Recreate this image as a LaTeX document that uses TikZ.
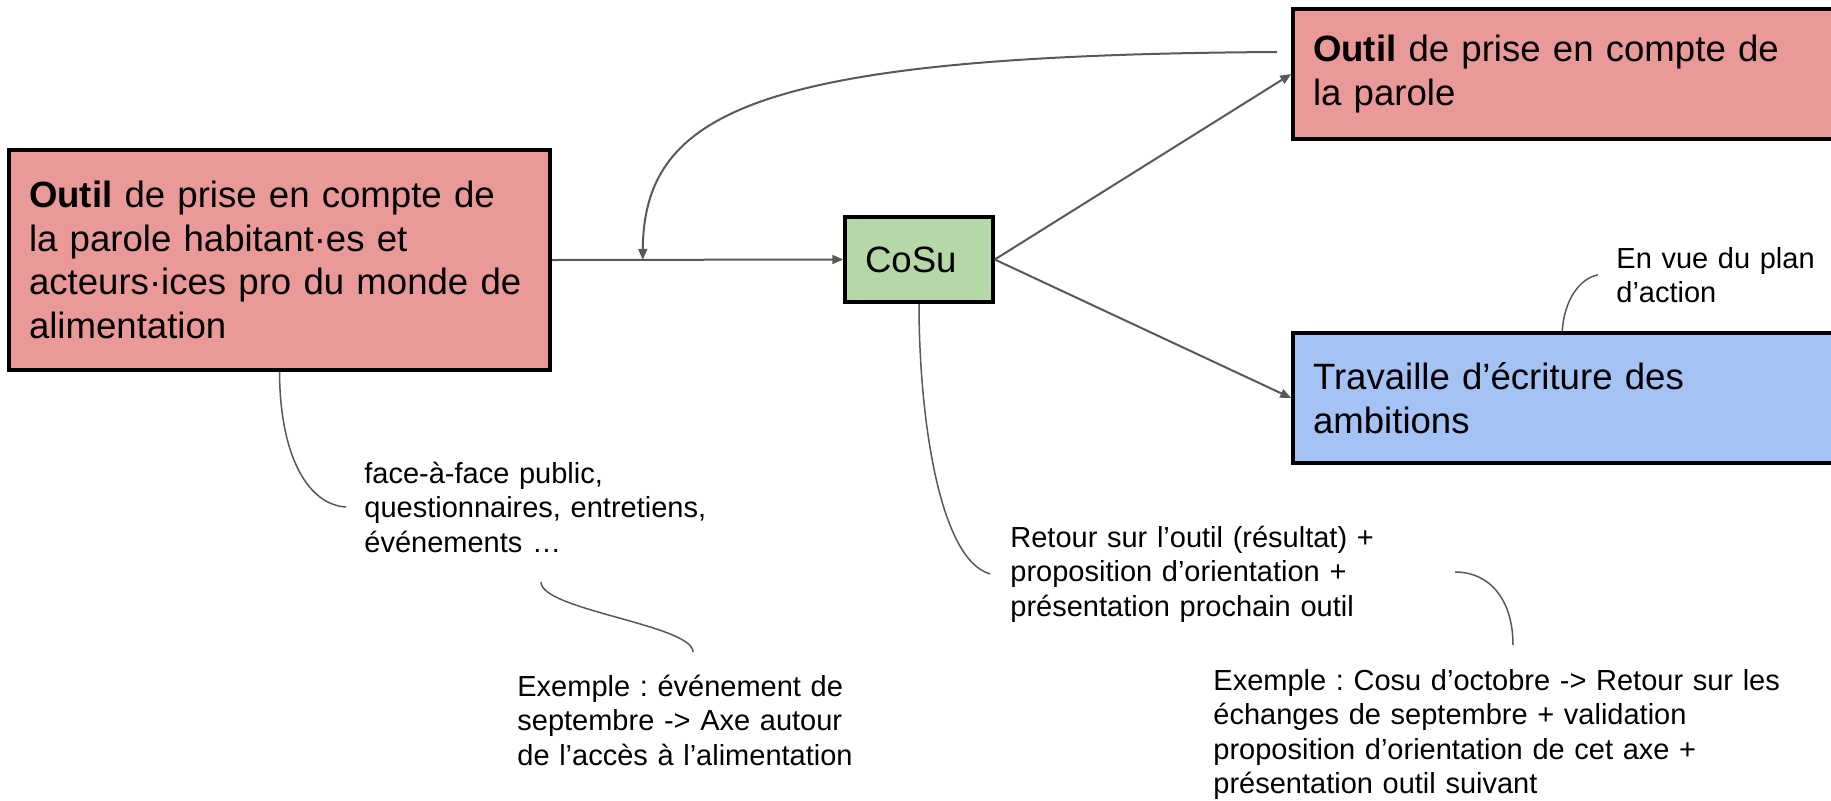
\documentclass[tikz,border=0pt]{standalone}
\usepackage{fontspec}
\setmainfont{Liberation Sans}
\usetikzlibrary{arrows.meta,calc}
\definecolor{boxred}{HTML}{EA9999}
\definecolor{boxgreen}{HTML}{B6D7A8}
\definecolor{boxblue}{HTML}{A4C2F4}
\definecolor{linegrey}{HTML}{595959}
\frenchspacing
\newcommand{\myBigFont}{\fontsize{18.3pt}{21.75pt}\selectfont}
\newcommand{\mySmallFont}{\fontsize{14.5pt}{17.25pt}\selectfont}
\begin{document}
\begin{tikzpicture}[x=0.5pt,y=-0.5pt,
  box/.style={draw=black, line width=1.75pt, rectangle, inner xsep=10pt, inner ysep=0pt, align=left, font=\myBigFont},
  conn/.style={draw=linegrey, line width=1pt, -{Triangle[length=5.5pt,width=4.5pt]}},
  callout/.style={draw=linegrey, line width=0.75pt},
  note/.style={inner sep=0pt, anchor=base west, align=left, font=\mySmallFont, text width=320pt}]
\useasboundingbox (0,0) rectangle (1831,800);
\fill[white] (0,0) rectangle (1831,800);
\clip (0,0) rectangle (1831,800);

% boxes
\node[box, fill=boxred, minimum width=270.5pt, minimum height=110pt, text width=250.5pt] (L1) at (279.5,260)
  {\textbf{Outil} de prise en compte de\\la parole habitant·es et\\acteurs·ices pro du monde de\\alimentation};
\node[box, fill=boxred, minimum height=65pt, text width=263.5pt] (R1) at (1576.5,74)
  {\textbf{Outil} de prise en compte de\\la parole};
\node[box, fill=boxblue, minimum height=65pt, text width=263.5pt] (B) at (1576.5,398)
  {Travaille d’écriture des\\ambitions};
\node[box, fill=boxgreen, minimum height=42.5pt, text width=54pt] (C) at (919,259.5) {CoSu};

% notes
\node[note] (n1) at (364,483) {face-à-face public,\\questionnaires, entretiens,\\événements …};
\node[note] (n2) at (517,696) {Exemple : événement de\\septembre -> Axe autour\\de l’accès à l’alimentation};
\node[note] (n3) at (1010,547) {Retour sur l’outil (résultat) +\\proposition d’orientation +\\présentation prochain outil};
\node[note] (n4) at (1213,690) {Exemple : Cosu d’octobre -> Retour sur les\\échanges de septembre + validation\\proposition d’orientation de cet axe +\\présentation outil suivant};
\node[note] (n5) at (1616,268) {En vue du plan\\d’action};

% connectors
\draw[conn] (L1.east) -- (C.west);
\coordinate (loopStart) at (1277,52);
\coordinate (loopEnd) at ($(L1.east)!0.312!(C.west)$);
\draw[conn] (loopStart) .. controls (760,55) and (644,110) .. (loopEnd);
\draw[conn] (C.east) -- (R1.west);
\draw[conn] (C.east) -- (B.west);

% callouts
\draw[callout] (L1.south) .. controls (280,460) and (310,505) .. ([xshift=-9pt]n1.west);
\coordinate (bStart) at (541,582);
\coordinate (bEnd) at (693,652);
\draw[callout] (bStart) .. controls (541,610) and (693,625) .. (bEnd);
\draw[callout] (C.south) .. controls (919,420) and (940,560) .. ([xshift=-10pt]n3.west);
\coordinate (dStart) at (1455,572);
\coordinate (dEnd) at (1513,645);
\draw[callout] (dStart) .. controls (1490,572) and (1513,600) .. (dEnd);
\coordinate (eStart) at ($(B.north west)+(271,0)$);
\draw[callout] (eStart) .. controls (1564,300) and (1580,278) .. ([xshift=-9pt]n5.west);
\end{tikzpicture}
\end{document}
